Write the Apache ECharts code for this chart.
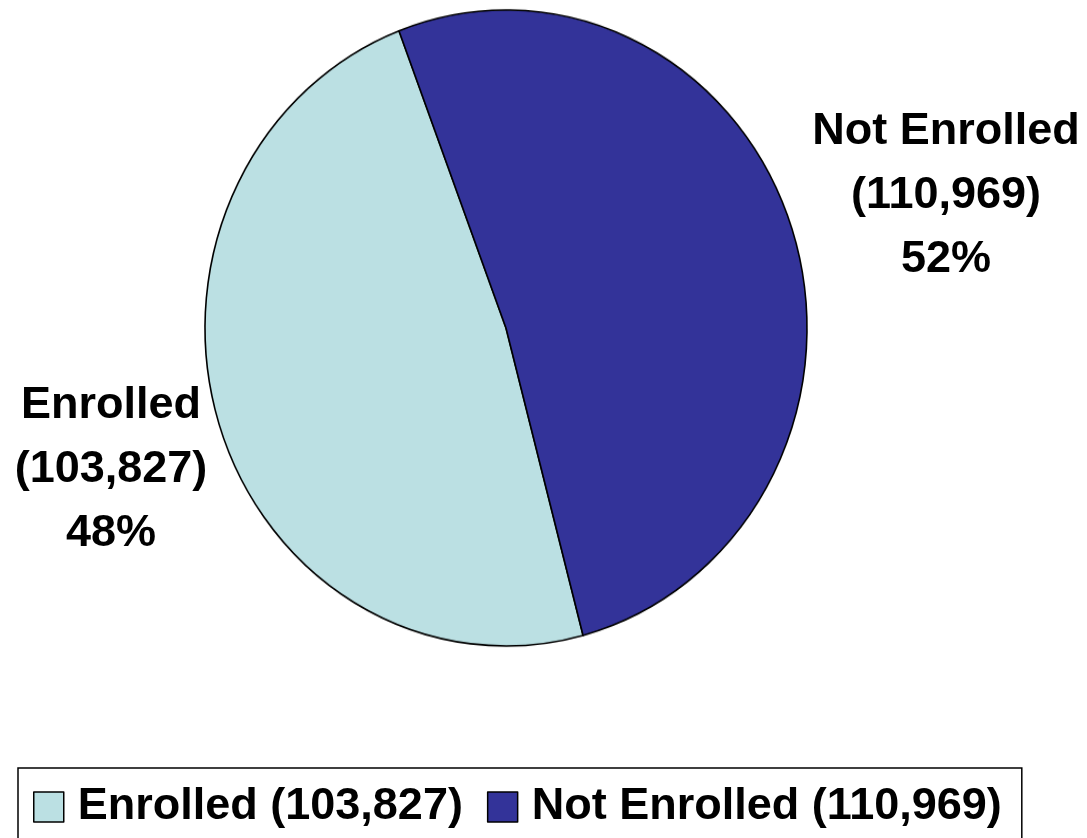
<!DOCTYPE html>
<html>
<head>
<meta charset="utf-8">
<script src="https://cdn.jsdelivr.net/npm/echarts@6/dist/echarts.min.js"></script>
<style>
html,body{margin:0;padding:0;background:#fff;}
#wrap{position:relative;width:1087px;height:838px;overflow:hidden;}
#pie{position:absolute;left:0;top:0;width:1087px;height:838px;transform-origin:506px 328px;transform:scaleY(1.0565);}
#chart{position:absolute;left:0;top:0;width:1087px;height:838px;}
</style>
</head>
<body>
<div id="wrap">
  <div id="pie"></div>
  <div id="chart"></div>
</div>
<script>
const categories = ["Enrolled", "Not Enrolled"];
const values = [103827, 110969];
const colors = ["#BBE0E3", "#333399"];

const total = values.reduce((a, b) => a + b, 0);
const fmt = v => v.toLocaleString('en-US');
const FONT = '"Liberation Sans", Arial, sans-serif';
const CENTER = [506, 328];
const RADIUS = 301;
const START = 284.84;

// Pie wedges (drawn in a vertically stretched layer to reproduce the slightly oval pie)
const pieChart = echarts.init(document.getElementById('pie'), null, {renderer: 'canvas'});
pieChart.setOption({
  animation: false,
  backgroundColor: '#ffffff',
  series: [{
    type: 'pie',
    center: CENTER,
    radius: RADIUS,
    startAngle: START,
    clockwise: true,
    silent: true,
    label: {show: false},
    labelLine: {show: false},
    data: categories.map((c, i) => ({name: c, value: values[i], itemStyle: {color: colors[i]}})),
    itemStyle: {borderColor: '#000', borderWidth: 1.6}
  }]
});

// Labels and legend (unscaled layer)
const chart = echarts.init(document.getElementById('chart'), null, {renderer: 'canvas'});
chart.setOption({
  animation: false,
  legend: {
    data: categories.map((c, i) => ({name: c, itemStyle: {color: colors[i], opacity: 1, borderColor: '#000', borderWidth: 1.5}})),
    orient: 'horizontal',
    left: 18,
    top: 768,
    padding: [16, 20, 40, 15],
    borderColor: '#000',
    borderWidth: 1.5,
    backgroundColor: '#fff',
    itemWidth: 30,
    itemHeight: 30,
    itemGap: 24,
    icon: 'rect',
    selectedMode: false,
    textStyle: {fontFamily: FONT, fontWeight: 'bold', fontSize: 45, lineHeight: 46, color: '#000', padding: [0, 0, 0, 9]},
    formatter: name => name + ' (' + fmt(values[categories.indexOf(name)]) + ')'
  },
  series: [{
    type: 'pie',
    center: CENTER,
    radius: RADIUS,
    startAngle: START,
    clockwise: true,
    silent: true,
    data: categories.map((c, i) => ({name: c, value: values[i]})),
    itemStyle: {color: 'rgba(0,0,0,0)', borderWidth: 0},
    label: {
      show: true,
      position: 'outside',
      alignTo: 'none',
      overflow: 'none',
      bleedMargin: 0,
      fontFamily: FONT,
      fontWeight: 'bold',
      fontSize: 45,
      lineHeight: 64,
      color: '#000',
      align: 'center',
      formatter: p => p.name + '\n(' + fmt(p.value) + ')\n' + Math.round(p.value / total * 100) + '%'
    },
    labelLine: {show: false},
    labelLayout: p => p.dataIndex === 0
      ? {x: 111, y: 470, align: 'center', verticalAlign: 'middle', width: 400}
      : {x: 946, y: 196, align: 'center', verticalAlign: 'middle', width: 400}
  }]
});
</script>
</body>
</html>
